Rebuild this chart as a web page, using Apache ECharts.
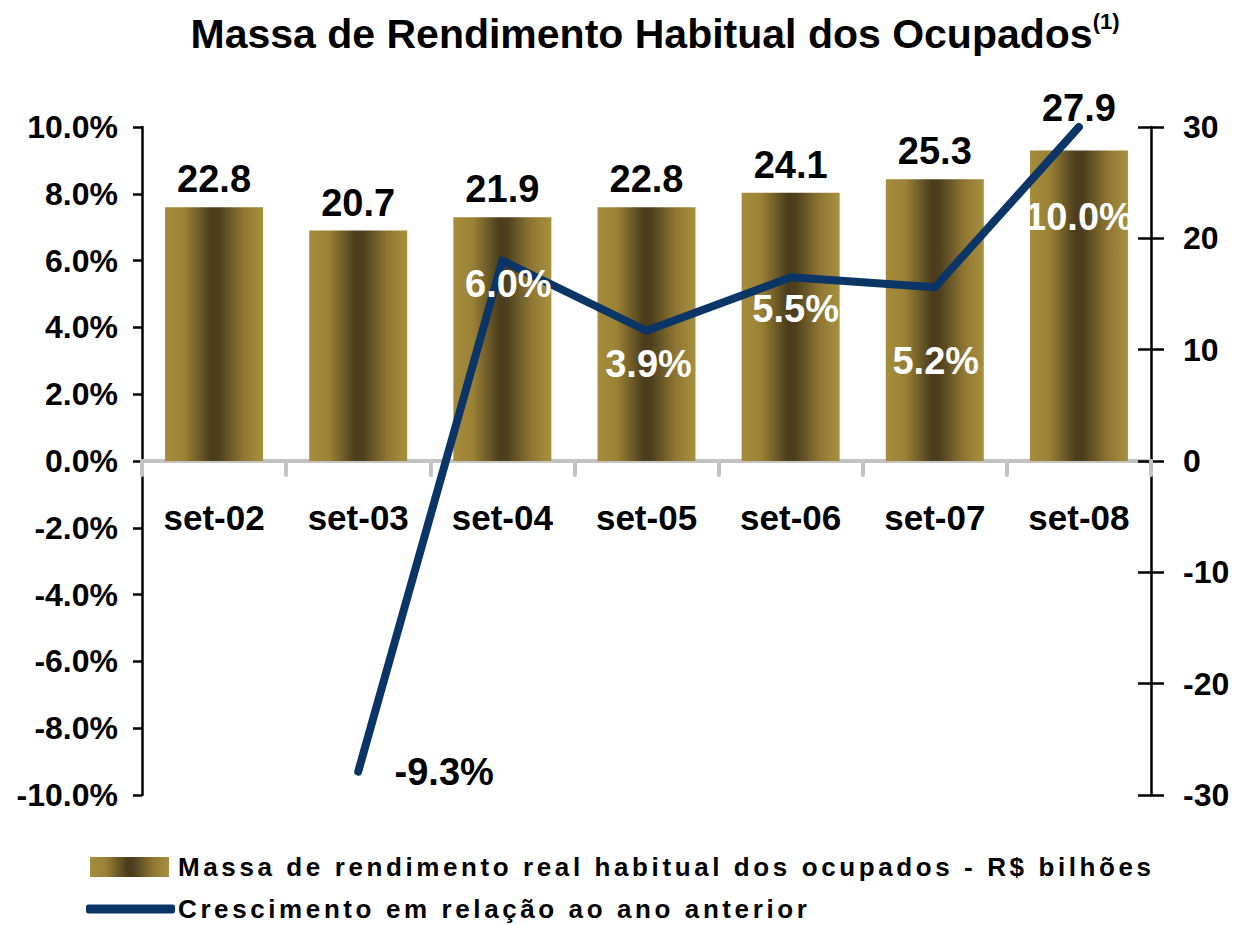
<!DOCTYPE html>
<html>
<head>
<meta charset="utf-8">
<script src="https://cdn.jsdelivr.net/npm/echarts@6/dist/echarts.min.js"></script>
<style>
  html, body { margin: 0; padding: 0; background: #fff; }
  #chart { width: 1240px; height: 925px; }
  #chart text[style*="26px"] { letter-spacing: 3.6px; }
</style>
</head>
<body>
<div id="chart"></div>
<script>
// ---- data ----
const categories = ['set-02', 'set-03', 'set-04', 'set-05', 'set-06', 'set-07', 'set-08'];
const massaValues = [22.8, 20.7, 21.9, 22.8, 24.1, 25.3, 27.9];          // R$ bilhões (right axis)
const crescimentoValues = [null, -9.3, 6.0, 3.9, 5.5, 5.2, 10.0];        // % (left axis)
const leftAxisTicks = [-10, -8, -6, -4, -2, 0, 2, 4, 6, 8, 10];
const rightAxisTicks = [-30, -20, -10, 0, 10, 20, 30];
const seriesNames = ['Massa de rendimento real habitual dos ocupados - R$ bilhões',
                     'Crescimento em relação ao ano anterior'];
const titleText = 'Massa de Rendimento Habitual dos Ocupados';
const titleNote = '(1)';

// ---- styles (kept separate from data) ----
const FONT = '"Liberation Sans", Arial, Helvetica, sans-serif';
const lineLabelOffsets = [null, [86, 0], [6, 23], [2, 33], [5, 32], [1, 74], [0, 90]];
const lineLabelColors = [null, '#000', '#fff', '#fff', '#fff', '#fff', '#fff'];
const barLabelDistances = [9, 9, 9, 9, 9, 9, 23];
const LINE_COLOR = '#0b3567';

const GRID = { left: 142, right: 89, top: 127, bottom: 130 };
const CHART_H = 925;
const gridHeight = CHART_H - GRID.top - GRID.bottom;
const yMin = leftAxisTicks[0], yMax = leftAxisTicks[leftAxisTicks.length - 1];
// place the category axis at the zero of the left axis
const xAxisOffset = -gridHeight * (0 - yMin) / (yMax - yMin);

const barGradient = new echarts.graphic.LinearGradient(0, 0, 1, 0, [
  { offset: 0, color: '#a68d3b' },
  { offset: 0.2, color: '#9a8136' },
  { offset: 0.47, color: '#4b3d1c' },
  { offset: 0.55, color: '#4e401e' },
  { offset: 0.8, color: '#8f7733' },
  { offset: 1, color: '#a89040' }
]);

const lineData = crescimentoValues.map((v, i) => {
  if (v === null) return null;
  return {
    value: v,
    label: { offset: lineLabelOffsets[i], color: lineLabelColors[i] }
  };
});

const barData = massaValues.map((v, i) => ({
  value: v,
  label: { distance: barLabelDistances[i] }
}));

const chart = echarts.init(document.getElementById('chart'), null, { renderer: 'svg' });

const axisLabelStyle = { color: '#000', fontFamily: FONT, fontWeight: 'bold', fontSize: 32 };

const option = {
  animation: false,
  backgroundColor: '#fff',
  graphic: [{
    type: 'text',
    x: 655,
    y: 10,
    style: {
      text: '{t|' + titleText + '}{s|' + titleNote + '}',
      align: 'center',
      verticalAlign: 'top',
      rich: {
        t: { fontSize: 41, fontWeight: 'bold', fontFamily: FONT, fill: '#000', color: '#000', lineHeight: 48 },
        s: { fontSize: 22, fontWeight: 'bold', fontFamily: FONT, fill: '#000', color: '#000', verticalAlign: 'top', lineHeight: 30 }
      }
    }
  }],
  grid: Object.assign({ containLabel: false }, GRID),
  legend: [
    {
      data: [{ name: seriesNames[0], icon: 'rect' }],
      left: 90, top: 854, padding: 0,
      itemWidth: 79, itemHeight: 20,
      textStyle: { color: '#000', fontFamily: FONT, fontWeight: 'bold', fontSize: 26, padding: [0, 0, 0, 4] },
      selectedMode: false
    },
    {
      data: [{ name: seriesNames[1], icon: 'roundRect' }],
      left: 86, top: 896, padding: 0,
      itemWidth: 89, itemHeight: 9,
      textStyle: { color: '#000', fontFamily: FONT, fontWeight: 'bold', fontSize: 26, padding: [0, 0, 0, -2] },
      selectedMode: false
    }
  ],
  xAxis: {
    type: 'category',
    data: categories,
    offset: xAxisOffset,
    axisLine: { show: true, onZero: false, lineStyle: { color: '#c3c3c3', width: 4 } },
    axisTick: { show: true, length: 14, lineStyle: { color: '#c3c3c3', width: 4, cap: 'round' } },
    axisLabel: { color: '#000', fontFamily: FONT, fontWeight: 'bold', fontSize: 35, margin: 39, interval: 0 },
    splitLine: { show: false }
  },
  yAxis: [
    {
      type: 'value', position: 'left',
      min: yMin, max: yMax,
      interval: leftAxisTicks[1] - leftAxisTicks[0],
      axisLine: { show: true, lineStyle: { color: '#000', width: 2.5 } },
      axisTick: { show: true, length: 9, lineStyle: { color: '#000', width: 2.5 } },
      splitLine: { show: false },
      axisLabel: Object.assign({ margin: 24, formatter: v => v.toFixed(1) + '%' }, axisLabelStyle)
    },
    {
      type: 'value', position: 'right',
      min: rightAxisTicks[0], max: rightAxisTicks[rightAxisTicks.length - 1],
      interval: rightAxisTicks[1] - rightAxisTicks[0],
      axisLine: { show: true, lineStyle: { color: '#000', width: 2.5 } },
      axisTick: { show: true, length: 13, lineStyle: { color: '#000', width: 2.5 } },
      splitLine: { show: false },
      axisLabel: Object.assign({ margin: 32 }, axisLabelStyle)
    },
    {
      type: 'value', position: 'right',
      min: rightAxisTicks[0], max: rightAxisTicks[rightAxisTicks.length - 1],
      interval: rightAxisTicks[1] - rightAxisTicks[0],
      axisLine: { show: false },
      axisTick: { show: true, inside: true, length: 13, lineStyle: { color: '#000', width: 2.5 } },
      splitLine: { show: false },
      axisLabel: { show: false }
    }
  ],
  series: [
    {
      name: seriesNames[0],
      type: 'bar',
      yAxisIndex: 1,
      data: barData,
      barWidth: 98,
      itemStyle: { color: barGradient },
      z: 2,
      label: {
        show: true, position: 'top', distance: 9,
        color: '#000', fontFamily: FONT, fontWeight: 'bold', fontSize: 38,
        formatter: p => p.value.toFixed(1)
      }
    },
    {
      name: seriesNames[1],
      type: 'line',
      yAxisIndex: 0,
      data: lineData,
      symbol: 'circle',
      symbolSize: 1,
      itemStyle: { color: LINE_COLOR },
      lineStyle: { color: LINE_COLOR, width: 8, cap: 'round', join: 'round' },
      z: 3,
      label: {
        show: true, position: 'inside',
        fontFamily: FONT, fontWeight: 'bold', fontSize: 38,
        formatter: p => p.value.toFixed(1) + '%'
      }
    }
  ]
};

chart.setOption(option);
</script>
</body>
</html>
